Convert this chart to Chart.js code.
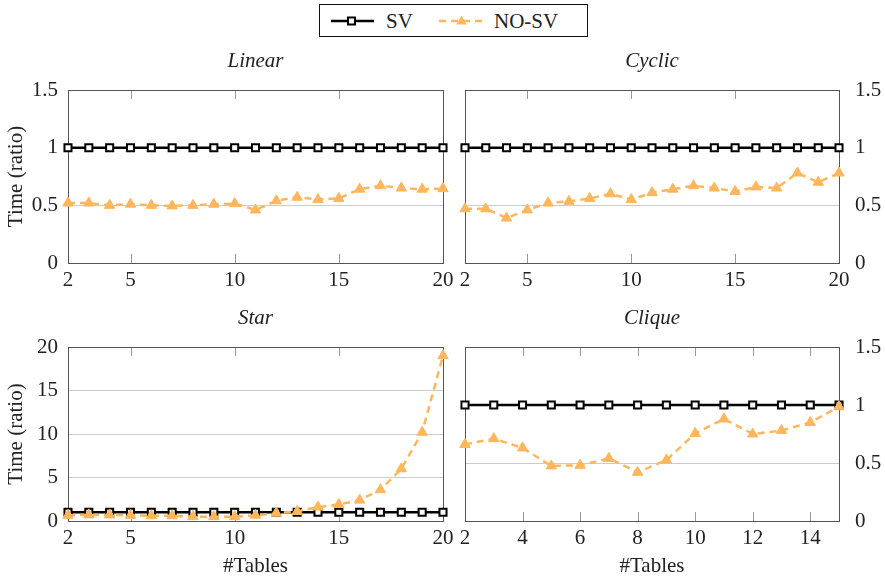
<!DOCTYPE html>
<html>
<head>
<meta charset="utf-8">
<script src="https://cdn.jsdelivr.net/npm/chart.js@4.4.0/dist/chart.umd.min.js"></script>
<style>
  body { margin: 0; background: #fff; }
  #wrap { position: relative; width: 885px; height: 583px; overflow: hidden; }
  canvas { position: absolute; }
  #legend {
    position: absolute; left: 319px; top: 4px; width: 267px; height: 31px;
    border: 1.5px solid #111; font: 21px "Liberation Serif", serif; color: #222;
  }
  #legend svg { position: absolute; top: 0; }
  #legend span { position: absolute; top: 4px; }
</style>
</head>
<body>
<div id="wrap">
  <div id="legend">
    <svg style="left:10px" width="46" height="31">
      <line x1="1" y1="16" x2="44" y2="16" stroke="#000" stroke-width="2.5"/>
      <rect x="18" y="12.5" width="7" height="7" fill="#fff" stroke="#000" stroke-width="2"/>
    </svg>
    <span style="left:66px">SV</span>
    <svg style="left:118px" width="48" height="31">
      <line x1="1" y1="16" x2="46" y2="16" stroke="#ffb65c" stroke-width="2.5" stroke-dasharray="7 5"/>
      <polygon points="23.5,10.5 28.5,19.5 18.5,19.5" fill="#ffb65c"/>
    </svg>
    <span style="left:174px">NO-SV</span>
  </div>
  <canvas id="linear" width="460" height="260" style="left:0;top:40px"></canvas>
  <canvas id="cyclic" width="440" height="260" style="left:445px;top:40px"></canvas>
  <canvas id="star" width="460" height="286" style="left:0;top:297px"></canvas>
  <canvas id="clique" width="440" height="286" style="left:445px;top:297px"></canvas>
</div>
<script>
// --- data ---
const tables20 = [2, 3, 4, 5, 6, 7, 8, 9, 10, 11, 12, 13, 14, 15, 16, 17, 18, 19, 20];
const tables15 = [2, 3, 4, 5, 6, 7, 8, 9, 10, 11, 12, 13, 14, 15];
const ticks20 = [2, 5, 10, 15, 20];
const ticks15 = [2, 4, 6, 8, 10, 12, 14];
const ratioTicks = [0, 0.5, 1, 1.5];
const starTicks = [0, 5, 10, 15, 20];

const linearSV   = [1, 1, 1, 1, 1, 1, 1, 1, 1, 1, 1, 1, 1, 1, 1, 1, 1, 1, 1];
const linearNoSV = [0.52, 0.52, 0.50, 0.51, 0.50, 0.495, 0.50, 0.51, 0.515, 0.46, 0.54, 0.57, 0.55, 0.56, 0.64, 0.67, 0.65, 0.64, 0.645];
const cyclicSV   = [1, 1, 1, 1, 1, 1, 1, 1, 1, 1, 1, 1, 1, 1, 1, 1, 1, 1, 1];
const cyclicNoSV = [0.47, 0.47, 0.39, 0.46, 0.52, 0.535, 0.56, 0.60, 0.55, 0.61, 0.64, 0.67, 0.65, 0.62, 0.66, 0.65, 0.78, 0.70, 0.78];
const starSV     = [1, 1, 1, 1, 1, 1, 1, 1, 1, 1, 1, 1, 1, 1, 1, 1, 1, 1, 1];
const starNoSV   = [0.65, 0.7, 0.7, 0.65, 0.6, 0.6, 0.5, 0.5, 0.5, 0.65, 0.9, 1.1, 1.6, 1.9, 2.4, 3.6, 6.0, 10.2, 19.0];
const cliqueSV   = [1, 1, 1, 1, 1, 1, 1, 1, 1, 1, 1, 1, 1, 1];
const cliqueNoSV = [0.66, 0.71, 0.63, 0.475, 0.48, 0.54, 0.42, 0.525, 0.755, 0.88, 0.75, 0.78, 0.85, 0.985];

const SERIF = '"Liberation Serif", "Times New Roman", serif';
const ORANGE = '#ffb65c';
const TEXT = '#222';

// frame, inward x ticks and italic title, drawn pgfplots-style
const framePlugin = {
    id: 'frame',
    beforeDatasetsDraw(chart, args, opts) {
        const { ctx, chartArea: a, scales: { x } } = chart;
        ctx.save();
        ctx.strokeStyle = '#999';
        ctx.lineWidth = 1;
        x.ticks.forEach(t => {
            const px = Math.round(x.getPixelForValue(t.value)) + 0.5;
            ctx.beginPath();
            ctx.moveTo(px, a.top);
            ctx.lineTo(px, a.top + 9);
            ctx.moveTo(px, a.bottom);
            ctx.lineTo(px, a.bottom - 9);
            ctx.stroke();
        });
        ctx.strokeStyle = '#555';
        ctx.strokeRect(Math.round(a.left) + 0.5, Math.round(a.top) + 0.5, Math.round(a.width), Math.round(a.height));
        ctx.font = 'italic 21px ' + SERIF;
        ctx.fillStyle = TEXT;
        ctx.textAlign = 'center';
        ctx.textBaseline = 'alphabetic';
        ctx.fillText(opts.text, (a.left + a.right) / 2, a.top - 23);
        ctx.restore();
    }
};

function pairs(xs, ys) {
    return xs.map((x, i) => ({ x, y: ys[i] }));
}

function makeChart(id, cfg) {
    const right = cfg.side === 'right';
    const tickFont = { family: SERIF, size: 21 };
    new Chart(document.getElementById(id), {
        type: 'line',
        data: {
            datasets: [{
                label: 'SV',
                data: pairs(cfg.xs, cfg.sv),
                borderColor: '#000',
                borderWidth: 2.5,
                pointStyle: 'rect',
                pointRadius: 5,
                pointBorderWidth: 2,
                pointBackgroundColor: '#fff',
                pointBorderColor: '#000',
                order: 1,
                clip: false,
            }, {
                label: 'NO-SV',
                data: pairs(cfg.xs, cfg.nosv),
                borderColor: ORANGE,
                borderWidth: 2.5,
                borderDash: [7, 5],
                pointStyle: 'triangle',
                pointRadius: 6,
                pointBorderWidth: 1,
                pointBackgroundColor: ORANGE,
                pointBorderColor: ORANGE,
                order: 0,
                clip: false,
            }],
        },
        options: {
            responsive: false,
            animation: false,
            devicePixelRatio: 1,
            layout: {
                padding: { top: 50, left: right ? 20 : 0, right: right ? 0 : 17 },
            },
            plugins: {
                legend: { display: false },
                tooltip: { enabled: false },
                frame: { text: cfg.title },
            },
            scales: {
                x: {
                    type: 'linear',
                    min: cfg.xs[0],
                    max: cfg.xs[cfg.xs.length - 1],
                    afterBuildTicks: s => { s.ticks = cfg.xticks.map(v => ({ value: v })); },
                    afterFit: s => { s.height = cfg.xTitle ? 62 : 37; },
                    grid: { display: false, drawTicks: false },
                    border: { display: false },
                    ticks: { font: tickFont, color: TEXT, padding: 5, maxRotation: 0, autoSkip: false },
                    title: {
                        display: !!cfg.xTitle,
                        text: cfg.xTitle,
                        font: tickFont,
                        color: TEXT,
                        padding: { top: 4, bottom: 4 },
                    },
                },
                y: {
                    position: cfg.side,
                    min: 0,
                    max: cfg.ymax,
                    afterBuildTicks: s => { s.ticks = cfg.yticks.map(v => ({ value: v })); },
                    afterFit: s => { s.width = right ? 46 : 68; },
                    grid: { color: '#ccc', lineWidth: 1, drawTicks: false },
                    border: { display: false },
                    ticks: { font: tickFont, color: TEXT, padding: right ? 16 : 10, callback: v => String(v) },
                    title: {
                        display: !right,
                        text: 'Time (ratio)',
                        font: tickFont,
                        color: TEXT,
                        padding: { top: 4, bottom: 0 },
                    },
                },
            },
        },
        plugins: [framePlugin],
    });
}

makeChart('linear', { title: 'Linear', side: 'left', xs: tables20, xticks: ticks20, sv: linearSV, nosv: linearNoSV, ymax: 1.5, yticks: ratioTicks });
makeChart('cyclic', { title: 'Cyclic', side: 'right', xs: tables20, xticks: ticks20, sv: cyclicSV, nosv: cyclicNoSV, ymax: 1.5, yticks: ratioTicks });
makeChart('star', { title: 'Star', side: 'left', xs: tables20, xticks: ticks20, sv: starSV, nosv: starNoSV, ymax: 20, yticks: starTicks, xTitle: '#Tables' });
makeChart('clique', { title: 'Clique', side: 'right', xs: tables15, xticks: ticks15, sv: cliqueSV, nosv: cliqueNoSV, ymax: 1.5, yticks: ratioTicks, xTitle: '#Tables' });
</script>
</body>
</html>
